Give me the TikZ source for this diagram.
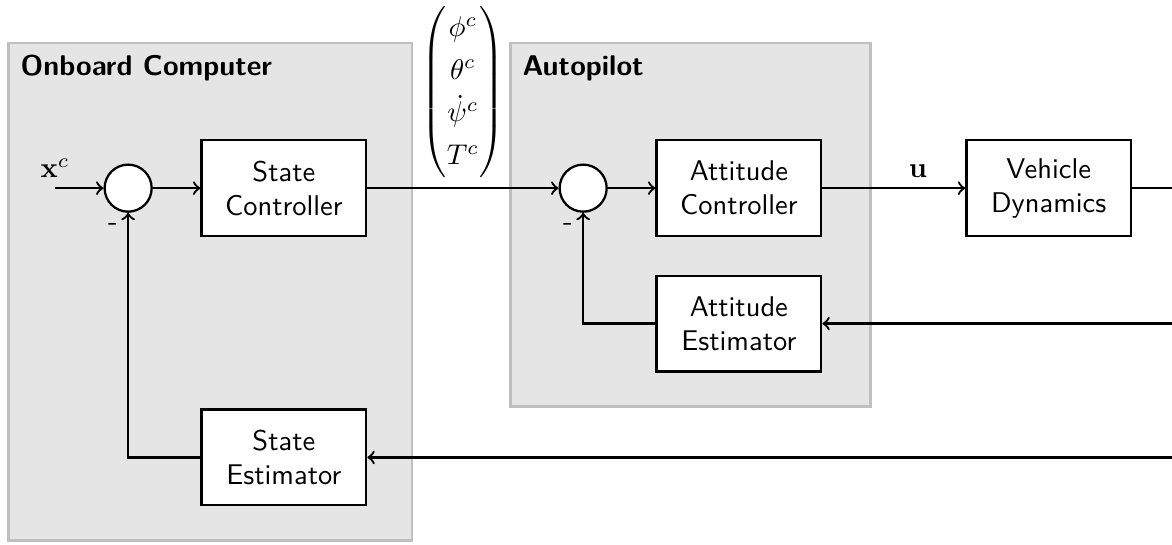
\documentclass[tikz,border=0pt]{standalone}
\usepackage{amsmath}
\usepackage{amsfonts}
\usepackage{amssymb}
\usepackage{bm}
\usepackage{tikz}
\usetikzlibrary{calc, shapes, backgrounds}

\begin{document}
\begin{tikzpicture}
  [
    thick, >=to,
    block/.style = {draw, fill = white, align = center, font = \sffamily,
                    minimum width = 2.03cm, minimum height = 1.18cm},
    sum/.style   = {draw, circle, fill = white, minimum size = 0.58cm, inner sep = 0pt},
    group/.style = {draw = gray!50, fill = gray!20, line width = 1pt, inner sep = 0pt},
    title/.style = {anchor = north west, font = \sffamily\bfseries, inner sep = 4.5pt}
  ]
  \useasboundingbox (0,0) rectangle (14.45,6.71);

  % groups
  \node [group, minimum width = 4.98cm, minimum height = 6.13cm] (Onboard) at (2.59,3.115) {};
  \node [group, minimum width = 4.44cm, minimum height = 4.48cm] (Autopilot) at (8.51,3.94) {};
  \node [title] (OnboardTitle) at (Onboard.north west) {Onboard Computer};
  \node [title] (AutopilotTitle) at (Autopilot.north west) {Autopilot};

  % blocks
  \node [sum] (Sum1) at (1.58,4.39) {};
  \node [block] (StateCtrl) at (3.50,4.39) {State\\Controller};
  \node [block] (StateEst) at (3.50,1.07) {State\\Estimator};
  \node [sum] (Sum2) at (7.19,4.39) {};
  \node [block] (AttCtrl) at (9.11,4.39) {Attitude\\Controller};
  \node [block] (AttEst) at (9.11,2.72) {Attitude\\Estimator};
  \node [block] (Vehicle) at (12.93,4.39) {Vehicle\\Dynamics};

  \coordinate (In) at (0.68,4.39);
  \coordinate (Out) at (14.45,4.39);
  \coordinate (FbAtt) at (14.45,2.72);
  \coordinate (FbState) at (14.45,1.07);

  % signals
  \draw [->] (In) node [above] (XcLabel) {$\mathbf{x}^c$} -- (Sum1);
  \draw [->] (Sum1) -- (StateCtrl);
  \draw [->] (StateCtrl) -- node [above] (Cmd)
    {\renewcommand{\arraystretch}{1.25}%
     $\begin{pmatrix} \phi^c \\ \theta^c \\ \dot{\psi}^c \\ T^c \end{pmatrix}$} (Sum2);
  \draw [->] (Sum2) -- (AttCtrl);
  \draw [->] (AttCtrl) -- node [above, pos = 0.67] (ULabel) {$\mathbf{u}$} (Vehicle);
  \draw (Vehicle) -- (Out);
  \draw [->] (FbAtt) -- (AttEst);
  \draw [->] (FbState) -- (StateEst);
  \draw [->] (AttEst) -| (Sum2);
  \draw [->] (StateEst) -| (Sum1);
  \node [below left] (Minus1) at (Sum1.south) {-};
  \node [below left] (Minus2) at (Sum2.south) {-};
\end{tikzpicture}
\end{document}
